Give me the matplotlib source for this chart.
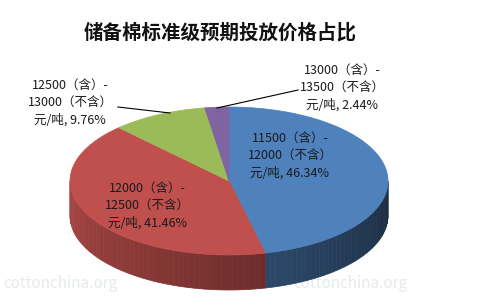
import numpy as np
import matplotlib.pyplot as plt
from matplotlib.patches import Polygon

plt.rcParams['font.family'] = ['Noto Sans CJK SC', 'DejaVu Sans']

# 数据
labels = ['11500（含）-\n12000（不含）\n元/吨, 46.34%',
          '12000（含）-\n12500（不含）\n元/吨, 41.46%',
          '12500（含）-\n13000（不含）\n元/吨, 9.76%',
          '13000（含）-\n13500（不含）\n元/吨, 2.44%']
shares = [46.34, 41.46, 9.76, 2.44]
colors = ['#4F81BD', '#C0504D', '#9BBB59', '#8064A2']

# 饼图几何（像素坐标）
cx, cy = 229, 181
ra, rb = 159, 74
depth = 35

W, H = 497, 305
fig = plt.figure(figsize=(W / 100, H / 100), dpi=100)
ax = fig.add_axes([0, 0, 1, 1])
ax.set_xlim(0, W)
ax.set_ylim(H, 0)
ax.axis('off')


def pt(theta_deg, dy=0):
    t = np.radians(theta_deg)
    return cx + ra * np.sin(t), cy - rb * np.cos(t) + dy


def shade(c, f):
    r, g, b = [int(c[i:i + 2], 16) / 255 for i in (1, 3, 5)]
    return (r * f, g * f, b * f)


# 角度（从12点钟方向顺时针）
bounds = np.concatenate([[0], np.cumsum(shares) / sum(shares) * 360])

# 侧面
for i in range(len(shares)):
    s, e = max(bounds[i], 90), min(bounds[i + 1], 270)
    if s >= e:
        continue
    steps = np.linspace(s, e, int((e - s) / 2) + 2)
    for t0, t1 in zip(steps[:-1], steps[1:]):
        f = 0.33 + 0.55 * ((t0 + t1) / 2 - 90) / 180
        p = [pt(t0), pt(t1), pt(t1, depth), pt(t0, depth)]
        ax.add_patch(Polygon(p, closed=True, fc=shade(colors[i], f),
                             ec=shade(colors[i], f), lw=0.5))

# 顶面
for i in range(len(shares)):
    th = np.linspace(bounds[i], bounds[i + 1], 100)
    p = [(cx, cy)] + [pt(t) for t in th]
    ax.add_patch(Polygon(p, closed=True, fc=colors[i], ec=colors[i], lw=0.5))

# 标题
ax.text(220, 33, '储备棉标准级预期投放价格占比', ha='center', va='center',
        fontsize=14, fontweight='bold', color='#111111')

# 数据标签
label_pos = [(290, 156), (147, 206), (70, 103), (342, 88)]
for lab, (x, y) in zip(labels, label_pos):
    ax.text(x, y, lab, ha='center', va='center', fontsize=9,
            linespacing=1.4, color='#1a1a1a')

# 引导线
ax.plot([118, 170], [107, 113], color='black', lw=0.8)
ax.plot([298, 217], [90, 108], color='black', lw=0.8)

# 水印
for wx in (60, 350):
    ax.text(wx, 284, 'cottonchina.org', ha='center', va='center',
            fontsize=11, color='#e6eaea', zorder=0)

fig.savefig('out.png', dpi=100)
